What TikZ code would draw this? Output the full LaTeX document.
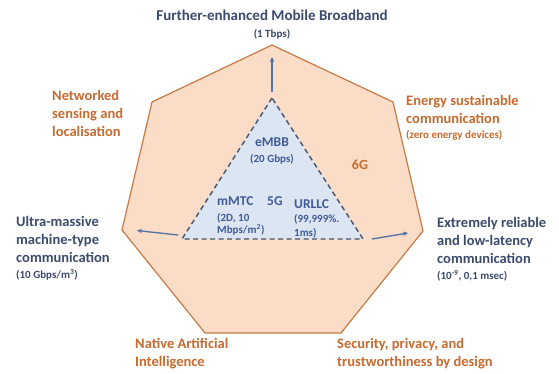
\documentclass[tikz,border=0pt]{standalone}
\usepackage{fontspec}
\setmainfont{Carlito}
\usetikzlibrary{arrows.meta}
\definecolor{peach}{HTML}{FBDCC6}
\definecolor{peachline}{HTML}{C77A45}
\definecolor{paleblue}{HTML}{DCE6F2}
\definecolor{dashcol}{HTML}{44546A}
\definecolor{arrowcol}{HTML}{4F73A3}
\definecolor{navy}{HTML}{3B4A6B}
\definecolor{innerblue}{HTML}{3F5A96}
\definecolor{orangetxt}{HTML}{C66A2E}
\tikzset{
  x=1pt, y=-1pt,
  lbl/.style={inner sep=0pt, font=\bfseries\fontsize{14.5}{18}\selectfont, align=left, anchor=base west},
  navylbl/.style={lbl, text=navy},
  orangelbl/.style={lbl, text=orangetxt},
  small/.style={inner sep=0pt, font=\bfseries\fontsize{11}{12}\selectfont, anchor=base west},
  innerlbl/.style={inner sep=0pt, text=innerblue, font=\bfseries\fontsize{13.5}{15}\selectfont, anchor=base west},
  innersmall/.style={inner sep=0pt, text=innerblue, font=\bfseries\fontsize{11}{12}\selectfont, align=left, anchor=base west},
  outarrow/.style={draw=arrowcol, line width=1.3pt, -{Stealth[length=5pt,width=4.5pt]}},
}
\begin{document}
\begin{tikzpicture}
\useasboundingbox (0,0) rectangle (559,373);
% heptagon
\coordinate (h1) at (272,45);
\coordinate (h2) at (393,102);
\coordinate (h3) at (423,231);
\coordinate (h4) at (341,333);
\coordinate (h5) at (205,333);
\coordinate (h6) at (122,230);
\coordinate (h7) at (152,102);
\draw[fill=peach, draw=peachline, line width=1.2pt, line join=miter] (h1)--(h2)--(h3)--(h4)--(h5)--(h6)--(h7)--cycle;
% triangle
\coordinate (t1) at (272,98);
\coordinate (t2) at (182,239);
\coordinate (t3) at (363,239);
\draw[fill=paleblue, draw=dashcol, line width=1.4pt, dash pattern=on 5pt off 3.5pt] (t1)--(t2)--(t3)--cycle;
% arrows
\coordinate (a1s) at (272,92);
\coordinate (a1e) at (272,57);
\coordinate (a2s) at (178,235);
\coordinate (a2e) at (137,230.5);
\coordinate (a3s) at (372,239);
\coordinate (a3e) at (408,233);
\draw[outarrow] (a1s) -- (a1e);
\draw[outarrow] (a2s) -- (a2e);
\draw[outarrow] (a3s) -- (a3e);
% outer labels (anchor: baseline of the last line)
\node[navylbl, anchor=base, font=\bfseries\fontsize{15}{18}\selectfont] (feMBB) at (272,20) {Further-enhanced Mobile Broadband};
\node[small, text=navy, anchor=base] (tbps) at (272,37) {(1 Tbps)};
\node[orangelbl] (nsl) at (52,136) {Networked\\sensing and\\localisation};
\node[orangelbl] (esc) at (406,123) {Energy sustainable\\communication};
\node[small, text=orangetxt] (zed) at (406,138) {(zero energy devices)};
\node[navylbl] (mtc) at (16,262) {Ultra-massive\\machine-type\\communication};
\node[small, text=navy] (gbps) at (16,278) {(10 Gbps/m\textsuperscript{3})};
\node[navylbl] (erl) at (437,263) {Extremely reliable\\and low-latency\\communication};
\node[small, text=navy] (msec) at (437,279) {(10\textsuperscript{-9}, 0,1 msec)};
\node[orangelbl] (nai) at (135,366) {Native Artificial\\Intelligence};
\node[orangelbl] (spt) at (337,366) {Security, privacy, and\\trustworthiness by design};
% inner labels
\node[innerlbl, anchor=base] (embb) at (272,146) {eMBB};
\node[innersmall, anchor=base] (g20) at (272,162) {(20 Gbps)};
\node[innerlbl] (mmtc) at (217,205) {mMTC};
\node[innerlbl] (fiveg) at (267,205) {5G};
\node[innerlbl] (urllc) at (294,208) {URLLC};
\node[innersmall] (mm) at (217,233) {(2D, 10\\Mbps/m\textsuperscript{2})};
\node[innersmall, font=\bfseries\fontsize{11}{14}\selectfont] (uu) at (294,236) {(99,999\%.\\1ms)};
\node[inner sep=0pt, text=orangetxt, font=\bfseries\fontsize{14}{15}\selectfont, anchor=base] (sixg) at (360,169) {6G};
\end{tikzpicture}
\end{document}
